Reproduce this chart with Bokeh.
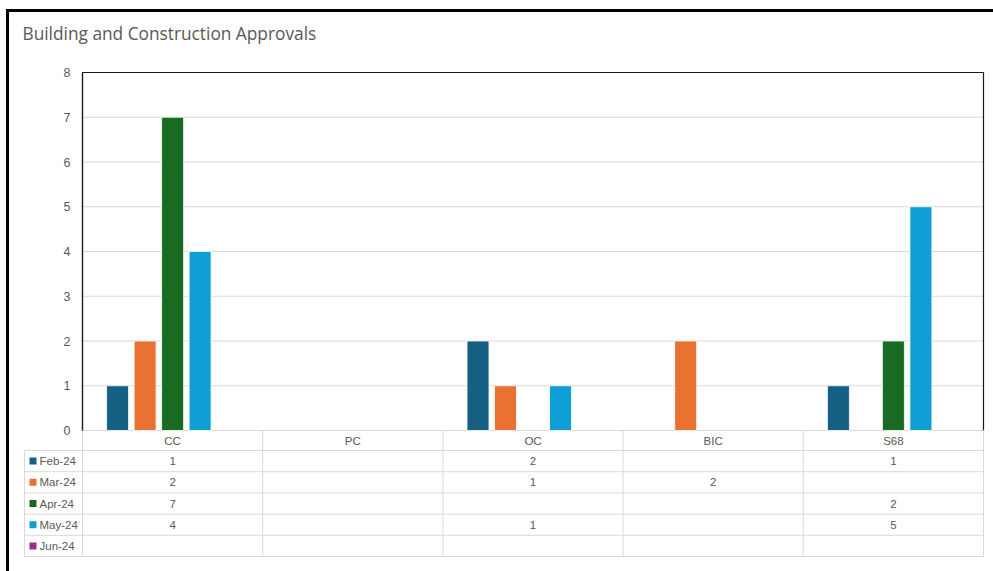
import numpy as np
from bokeh.plotting import figure
from bokeh.models import Range1d, ColumnDataSource
from bokeh.core.properties import value
from bokeh.embed import file_html
from bokeh.resources import INLINE

# ---------------- data ----------------
title_text = "Building and Construction Approvals"
categories = ["CC", "PC", "OC", "BIC", "S68"]
series_names = ["Feb-24", "Mar-24", "Apr-24", "May-24", "Jun-24"]
feb_24 = [1, None, 2, None, 1]
mar_24 = [2, None, 1, 2, None]
apr_24 = [7, None, None, None, 2]
may_24 = [4, None, 1, None, 5]
jun_24 = [None, None, None, None, None]
y_ticks = [0, 1, 2, 3, 4, 5, 6, 7, 8]
colors = ["#156082", "#E97132", "#196B24", "#0F9ED5", "#A02B93"]
series_values = [feb_24, mar_24, apr_24, may_24, jun_24]

# ---------------- layout (pixels) ----------------
W, H = 993, 571
L, R, T, B = 82, 983, 72, 430          # plot area
YMAX = y_ticks[-1]
cat_px = (R - L) / len(categories)
unit_px = (B - T) / YMAX
TAB_L = 24
HEAD_H = 20
ROW_H = 21.2
slot = 27.5 / cat_px
bar_w = 22 / cat_px

GRID = "#d9d9d9"
TXT = "#595959"
FONT = value("Liberation Sans")

x_range = Range1d(-L / cat_px, (W - L) / cat_px)
y_range = Range1d(-(H - B) / unit_px, YMAX + T / unit_px)

p = figure(width=W, height=H, x_range=x_range, y_range=y_range,
           output_backend="svg", toolbar_location=None, tools="",
           x_axis_location=None, y_axis_location=None, min_border=0)
p.extra_x_ranges = {"px": Range1d(0, W)}
p.extra_y_ranges = {"px": Range1d(H, 0)}
p.grid.visible = False
p.outline_line_color = None
p.background_fill_color = "white"
p.border_fill_color = "white"

n = len(categories)
centers = np.arange(n) + 0.5

# gridlines
p.segment(x0=[0] * len(y_ticks), x1=[n] * len(y_ticks), y0=y_ticks, y1=y_ticks,
          line_color=GRID, line_width=1)

# bars
for j, (name, vals) in enumerate(zip(series_names, series_values)):
    xs = [centers[i] + (j - 2) * slot for i, v in enumerate(vals) if v is not None]
    tops = [v for v in vals if v is not None]
    if tops:
        p.vbar(x=xs, top=tops, bottom=0, width=bar_w, fill_color=colors[j],
               line_color="white", line_width=0.8)

# plot border
p.segment(x0=[0, 0, n], x1=[n, 0, n], y0=[YMAX, 0, 0], y1=[YMAX, YMAX, YMAX],
          line_color="#1a1a1a", line_width=1.2)

# y tick labels
p.text(x=[0] * len(y_ticks), y=y_ticks, text=[str(t) for t in y_ticks],
       text_align="right", text_baseline="middle", x_offset=-12,
       text_font=FONT, text_font_size="12.5px", text_color=TXT)

# ---------------- data table ----------------
row_lines = [B + HEAD_H + k * ROW_H for k in range(len(series_names) + 1)]
p.segment(x0=[TAB_L] * len(row_lines), x1=[R] * len(row_lines), y0=row_lines, y1=row_lines,
          x_range_name="px", y_range_name="px", line_color=GRID, line_width=1)
bounds = list(range(n + 1))
p.segment(x0=bounds, x1=bounds, y0=[B] * len(bounds), y1=[row_lines[-1]] * len(bounds),
          y_range_name="px", line_color=GRID, line_width=1)
p.segment(x0=[TAB_L], x1=[TAB_L], y0=[row_lines[0]], y1=[row_lines[-1]],
          x_range_name="px", y_range_name="px", line_color=GRID, line_width=1)
p.segment(x0=[0], x1=[0], y0=[0], y1=[YMAX], line_color="#1a1a1a", line_width=1.2)

p.text(x=centers, y=[B + HEAD_H / 2] * n, text=categories, y_range_name="px",
       text_align="center", text_baseline="middle",
       text_font=FONT, text_font_size="11.5px", text_color=TXT)

row_centers = [B + HEAD_H + (k + 0.5) * ROW_H for k in range(len(series_names))]
p.rect(x=[32.5] * len(series_names), y=row_centers, width=7, height=7,
       width_units="screen", height_units="screen", fill_color=colors, line_color=None,
       x_range_name="px", y_range_name="px")
p.text(x=[39] * len(series_names), y=row_centers, text=series_names,
       x_range_name="px", y_range_name="px", text_align="left", text_baseline="middle",
       text_font=FONT, text_font_size="11.5px", text_color=TXT)

cx, cy, ct = [], [], []
for j, vals in enumerate(series_values):
    for i, v in enumerate(vals):
        if v is not None:
            cx.append(centers[i]); cy.append(row_centers[j]); ct.append(str(v))
p.text(x=cx, y=cy, text=ct, y_range_name="px", text_align="center", text_baseline="middle",
       text_font=FONT, text_font_size="11.5px", text_color=TXT)

# ---------------- title and outer frame ----------------
p.text(x=[22], y=[33], text=[title_text], x_range_name="px", y_range_name="px",
       text_align="left", text_baseline="middle",
       text_font=value("Open Sans"), text_font_size="17.3px", text_color=TXT)
p.segment(x0=[7, 5.5], x1=[7, W], y0=[10, 10], y1=[H, 10],
          x_range_name="px", y_range_name="px", line_color="black", line_width=3)

open("out.html", "w").write(file_html(p, INLINE))
